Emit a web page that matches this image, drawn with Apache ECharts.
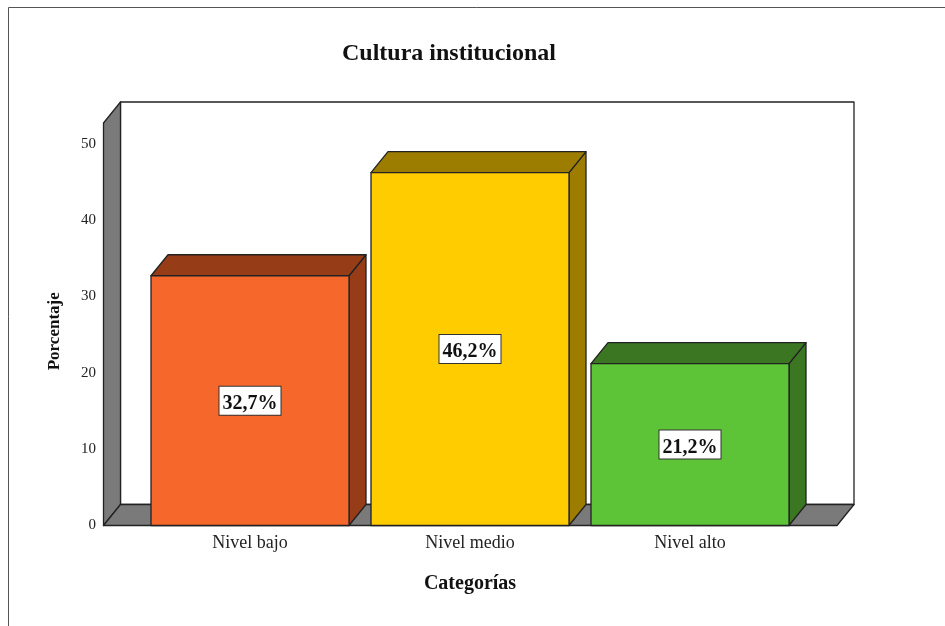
<!DOCTYPE html>
<html>
<head>
<meta charset="utf-8">
<style>html,body{margin:0;padding:0;background:#fff}#c{width:945px;height:626px}</style>
<script src="https://cdn.jsdelivr.net/npm/echarts@6/dist/echarts.min.js"></script>
</head>
<body>
<div id="c"></div>
<script>
const categories = ['Nivel bajo', 'Nivel medio', 'Nivel alto'];
const percentValues = [32.7, 46.2, 21.2];
const frontColors = ['#F5672A', '#FFCC00', '#5EC437'];
const shadeColors = ['#963D18', '#9C7D00', '#3B7722'];
const titleText = 'Cultura institucional';
const xAxisTitle = 'Categorías';
const yAxisTitle = 'Porcentaje';

const DEPTH_X = 17, DEPTH_Y = -21, PAD_LEFT = 36.5, PAD_RIGHT = 37;
const LINE = '#222222', WALL = '#7A7A7A', SERIF = '"Liberation Serif", serif';

function poly(points, fill) {
  return { type: 'polygon', shape: { points: points },
    style: { fill: fill, stroke: LINE, lineWidth: 1.3, lineJoin: 'round' } };
}
function renderWalls(params, api) {
  const c = params.coordSys;
  const l = c.x - PAD_LEFT, r = c.x + c.width + PAD_RIGHT, t = c.y, b = c.y + c.height;
  const dx = DEPTH_X, dy = DEPTH_Y;
  return { type: 'group', children: [
    poly([[l + dx, t + dy], [r + dx, t + dy], [r + dx, b + dy], [l + dx, b + dy]], '#FFFFFF'),
    poly([[l, t], [l + dx, t + dy], [l + dx, b + dy], [l, b]], WALL),
    poly([[l, b], [l + dx, b + dy], [r + dx, b + dy], [r, b]], WALL)
  ]};
}
function renderBar(params, api) {
  const i = params.dataIndex, v = api.value(1);
  const top = api.coord([api.value(0), v]), base = api.coord([api.value(0), 0]);
  const w = api.size([1, 0])[0] * 0.9;
  const x0 = top[0] - w / 2, x1 = top[0] + w / 2, yt = top[1], yb = base[1];
  const dx = DEPTH_X, dy = DEPTH_Y;
  return { type: 'group', children: [
    poly([[x1, yt], [x1 + dx, yt + dy], [x1 + dx, yb + dy], [x1, yb]], shadeColors[i]),
    poly([[x0, yt], [x0 + dx, yt + dy], [x1 + dx, yt + dy], [x1, yt]], shadeColors[i]),
    poly([[x0, yt], [x1, yt], [x1, yb], [x0, yb]], frontColors[i]),
    { type: 'text', z2: 10, style: {
        x: top[0], y: (yt + yb) / 2 - 14, align: 'center', verticalAlign: 'top',
        text: v.toFixed(1).replace('.', ',') + '%',
        font: 'bold 20px ' + SERIF, fill: '#111',
        backgroundColor: '#fff', borderColor: '#333', borderWidth: 1, padding: [7, 3, 1, 3]
    } }
  ]};
}

const chart = echarts.init(document.getElementById('c'), null, { renderer: 'canvas' });
chart.setOption({
  animation: false,
  backgroundColor: '#FFFFFF',
  title: { text: titleText, left: 444, top: 37, textAlign: 'center',
    textStyle: { fontFamily: SERIF, fontWeight: 'bold', fontSize: 24, color: '#111' } },
  graphic: [{ type: 'polyline', silent: true,
    shape: { points: [[8.5, 626], [8.5, 7.5], [945, 7.5]] },
    style: { stroke: '#555', lineWidth: 1, fill: null } }],
  grid: { left: 140, top: 123, width: 660, height: 402.5 },
  xAxis: { type: 'category', data: categories,
    axisLine: { show: false }, axisTick: { show: false },
    axisLabel: { margin: 9, fontFamily: SERIF, fontSize: 18, color: '#222' },
    name: xAxisTitle, nameLocation: 'middle', nameGap: 48,
    nameTextStyle: { fontFamily: SERIF, fontWeight: 'bold', fontSize: 20, color: '#111' } },
  yAxis: { type: 'value', min: 0, max: 52.7, interval: 10,
    axisLine: { show: false }, axisTick: { show: false }, splitLine: { show: false },
    axisLabel: { margin: 44, showMaxLabel: false, padding: [3, 0, 0, 0], fontFamily: SERIF, fontSize: 15, color: '#222' },
    name: yAxisTitle, nameLocation: 'middle', nameGap: 77, nameRotate: 90,
    nameTextStyle: { fontFamily: SERIF, fontWeight: 'bold', fontSize: 17, color: '#111', padding: [0, 0, 0, -14] } },
  series: [
    { type: 'custom', clip: false, silent: true, z: 1, renderItem: renderWalls, data: [[0, 0]] },
    { type: 'custom', clip: false, silent: true, z: 2, renderItem: renderBar,
      encode: { x: 0, y: 1 },
      data: percentValues.map((v, i) => [i, v]) }
  ]
});
</script>
</body>
</html>
